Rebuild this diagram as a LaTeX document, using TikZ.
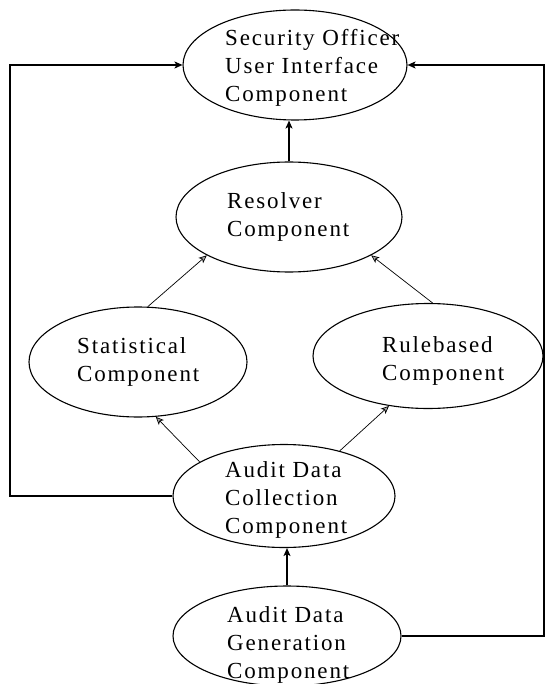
\documentclass[tikz,border=0pt]{standalone}
\usepackage{fontspec}
\setmainfont{Liberation Serif}[LetterSpace=8]
\usetikzlibrary{shapes.geometric,arrows.meta}
\begin{document}
\begin{tikzpicture}[x=1pt,y=-1pt,
    comp/.style={draw,ellipse,inner sep=0pt,line width=1.1pt},
    txt/.style={anchor=west,align=left,inner sep=0pt,font=\fontsize{23}{28}\selectfont},
    tip/.style={-{Stealth[length=8pt,width=7pt,inset=2pt,fill=gray!70]}},
    diag/.style={tip,line width=0.7pt},
    wire/.style={tip,line width=1.8pt}]
    \useasboundingbox (0,0) rectangle (545,684);
    % components
    \node[comp,minimum width=224pt,minimum height=110pt] (sec) at (295,65) {};
    \node[comp,minimum width=226pt,minimum height=110pt] (res) at (289,217) {};
    \node[comp,minimum width=218pt,minimum height=110pt] (stat) at (138,362) {};
    \node[comp,minimum width=230pt,minimum height=105pt] (rule) at (428,356) {};
    \node[comp,minimum width=222pt,minimum height=103pt] (coll) at (284,496) {};
    \node[comp,minimum width=228pt,minimum height=100pt] (gen) at (287,636) {};
    % texts
    \node[txt] (sec-txt) at (225,68) {Security Officer\\User Interface\\Component};
    \node[txt] (res-txt) at (227,217) {Resolver\\Component};
    \node[txt] (stat-txt) at (77,362) {Statistical\\Component};
    \node[txt] (rule-txt) at (382,361) {Rulebased\\Component};
    \node[txt] (coll-txt) at (225,500) {Audit Data\\Collection\\Component};
    \node[txt] (gen-txt) at (227,645) {Audit Data\\Generation\\Component};
    % corners of the outer wires
    \coordinate (lft) at (10,0);
    \coordinate (rgt) at (544,0);
    % connectors
    \draw[wire] (res.north) -- (res.north |- sec.south);
    \draw[diag] (stat.80) -- (res.205);
    \draw[diag] (rule.85) -- (res.335);
    \draw[diag] (coll.158) -- (stat.288);
    \draw[diag] (coll.39) -- (rule.232);
    \draw[wire] (gen.north) -- (gen.north |- coll.south);
    \draw[wire] (coll.west) -- (lft |- coll.west) |- (sec.west);
    \draw[wire] (gen.east) -- (rgt |- gen.east) |- (sec.east);
\end{tikzpicture}
\end{document}
